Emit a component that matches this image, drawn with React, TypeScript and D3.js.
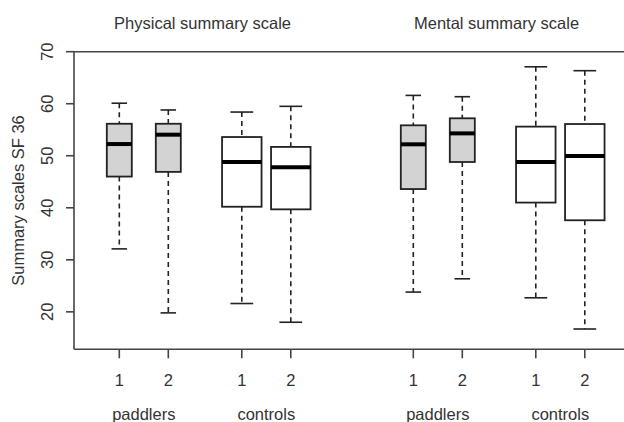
import React from "react";
import * as d3 from "d3";

const scales = ["Physical summary scale", "Mental summary scale"];
const groups = ["paddlers", "controls"];
const subgroups = ["1", "2"];
// order: Physical paddlers 1,2, controls 1,2, Mental paddlers 1,2, controls 1,2
const lowWhisker = [32.1, 19.8, 21.6, 18.0, 23.8, 26.35, 22.7, 16.7];
const q1 = [46.0, 46.9, 40.2, 39.7, 43.6, 48.8, 41.0, 37.6];
const median = [52.25, 54.05, 48.8, 47.8, 52.2, 54.3, 48.8, 49.95];
const q3 = [56.15, 56.15, 53.6, 51.7, 55.85, 57.2, 55.6, 56.1];
const highWhisker = [60.1, 58.8, 58.4, 59.5, 61.6, 61.35, 67.1, 66.35];
const yTicks = [20, 30, 40, 50, 60, 70];

const W = 624;
const H = 422;
const FONT = "'Liberation Sans', Arial, sans-serif";
const FS = 16.5;
const TXT = "#333";
const LINE = "#222";

export default function App() {
  const y = d3.scaleLinear().domain([12.8, 70]).range([349.3, 51.7]);
  const x = d3.scaleLinear().domain([1, 10.5]).range([119.3, 584.8]);
  const left = 74;
  const top = y(70);
  const bottom = y(12.8);

  const boxes: any[] = [];
  scales.forEach((s, si) => {
    groups.forEach((g, gi) => {
      subgroups.forEach((sg, ki) => {
        const i = si * 4 + gi * 2 + ki;
        const pos = si * 6 + gi * 2.5 + ki + 1;
        boxes.push({ i, pos, gi, sg });
      });
    });
  });

  return (
    <svg
      width={W}
      height={H}
      style={{ position: "absolute", left: 0, top: 0, background: "#fff" }}
      fontFamily={FONT}
    >
      <rect x={0} y={0} width={W} height={H} fill="#fff" />
      {/* titles */}
      {scales.map((s, si) => {
        const cx = (x(si * 6 + 1) + x(si * 6 + 4.5)) / 2 - 2.5;
        return (
          <text key={s} x={cx} y={28.5} textAnchor="middle" fontSize={FS} fill={TXT}>
            {s}
          </text>
        );
      })}
      {/* axis frame */}
      <line x1={left} x2={W} y1={top} y2={top} stroke="#444" strokeWidth={1.6} />
      <line x1={left} x2={W} y1={bottom} y2={bottom} stroke="#444" strokeWidth={1.6} />
      <line x1={left} x2={left} y1={top} y2={bottom} stroke="#444" strokeWidth={1.6} />
      {/* y ticks */}
      {yTicks.map((t) => (
        <g key={t}>
          <line x1={left - 8} x2={left} y1={y(t)} y2={y(t)} stroke="#444" strokeWidth={1.6} />
          <text
            transform={`translate(53,${y(t)}) rotate(-90)`}
            textAnchor="middle"
            fontSize={FS}
            fill={TXT}
          >
            {t}
          </text>
        </g>
      ))}
      <text
        transform={`translate(24,${(top + bottom) / 2}) rotate(-90)`}
        textAnchor="middle"
        fontSize={FS}
        fill={TXT}
      >
        Summary scales SF 36
      </text>
      {/* boxes */}
      {boxes.map((b) => {
        const cx = x(b.pos);
        const bw = b.gi === 0 ? 25 : 39.5;
        const cap = bw / 2 + 3;
        const fill = b.gi === 0 ? "#d3d3d3" : "#ffffff";
        return (
          <g key={b.i}>
            <line x1={cx} x2={cx} y1={y(highWhisker[b.i])} y2={y(q3[b.i])} stroke={LINE} strokeWidth={1.6} strokeDasharray="5,4" />
            <line x1={cx} x2={cx} y1={y(q1[b.i])} y2={y(lowWhisker[b.i])} stroke={LINE} strokeWidth={1.6} strokeDasharray="5,4" />
            <line x1={cx - cap / 2} x2={cx + cap / 2} y1={y(highWhisker[b.i])} y2={y(highWhisker[b.i])} stroke={LINE} strokeWidth={1.6} />
            <line x1={cx - cap / 2} x2={cx + cap / 2} y1={y(lowWhisker[b.i])} y2={y(lowWhisker[b.i])} stroke={LINE} strokeWidth={1.6} />
            <rect x={cx - bw / 2} y={y(q3[b.i])} width={bw} height={y(q1[b.i]) - y(q3[b.i])} fill={fill} stroke={LINE} strokeWidth={1.8} />
            <line x1={cx - bw / 2} x2={cx + bw / 2} y1={y(median[b.i])} y2={y(median[b.i])} stroke="#000" strokeWidth={4} />
            <line x1={cx} x2={cx} y1={bottom} y2={bottom + 9} stroke="#444" strokeWidth={1.6} />
            <text x={cx} y={386} textAnchor="middle" fontSize={FS} fill={TXT}>
              {b.sg}
            </text>
          </g>
        );
      })}
      {/* group labels */}
      {scales.map((s, si) =>
        groups.map((g, gi) => {
          const p = si * 6 + gi * 2.5 + 1.5;
          return (
            <text key={s + g} x={x(p)} y={420} textAnchor="middle" fontSize={FS} fill={TXT}>
              {g}
            </text>
          );
        })
      )}
    </svg>
  );
}
